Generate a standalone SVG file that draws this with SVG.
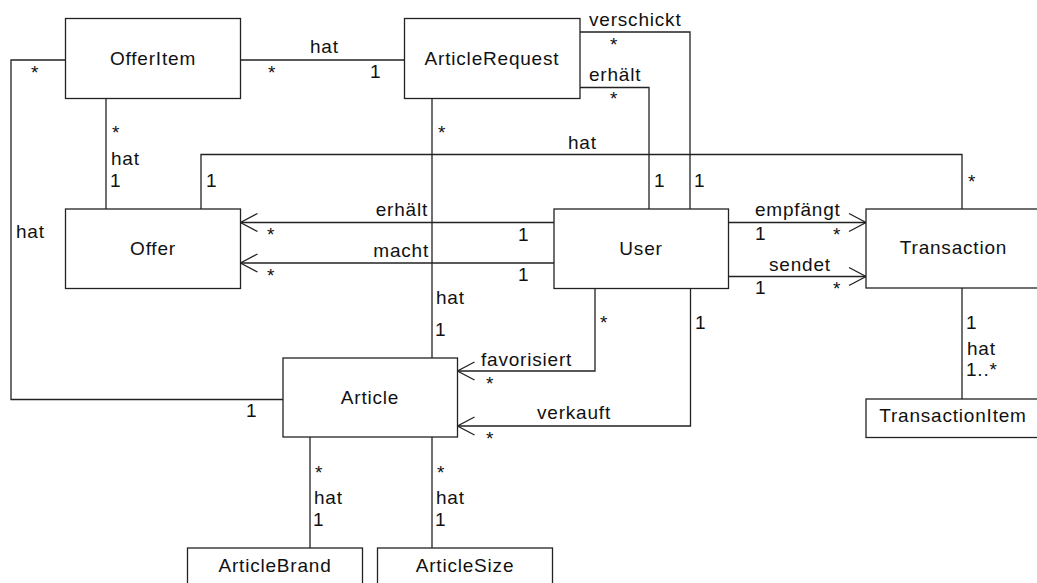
<svg xmlns="http://www.w3.org/2000/svg" width="1037" height="583" viewBox="0 0 1037 583">
<style>
.box{fill:#fff;stroke:#222;stroke-width:1.3}
.c{fill:none;stroke:#222;stroke-width:1.3}
text{font-family:"Liberation Sans",Arial,sans-serif;font-size:19px;letter-spacing:0.8px;fill:#111}
.n{text-anchor:middle}
.e{text-anchor:end}
</style>
<defs>
<marker id="open" markerUnits="userSpaceOnUse" viewBox="-19 -11 21 22" markerWidth="21" markerHeight="22" refX="0" refY="0" orient="auto">
<path d="M-17,-9 L0,0 L-17,9" fill="none" stroke="#222" stroke-width="1.3"/>
</marker>
</defs>
<rect width="1037" height="583" fill="#fff"/>
<g id="connectors">
<path class="c" d="M240.5 60 H404.5"/>
<path class="c" d="M65.5 60 H11 V399.5 H283"/>
<path class="c" d="M106 98.5 V209"/>
<path class="c" d="M201 209 V154.5 H962 V209"/>
<path class="c" d="M432 98.5 V358"/>
<path class="c" d="M580 32 H690 V209"/>
<path class="c" d="M580 87.5 H649 V209"/>
<path class="c" d="M554 222.5 H240.5" marker-end="url(#open)"/>
<path class="c" d="M554 263 H240.5" marker-end="url(#open)"/>
<path class="c" d="M728 222.5 H866" marker-end="url(#open)"/>
<path class="c" d="M728 276.5 H866" marker-end="url(#open)"/>
<path class="c" d="M595 288.5 V371 H457.5" marker-end="url(#open)"/>
<path class="c" d="M690.5 288.5 V426 H457.5" marker-end="url(#open)"/>
<path class="c" d="M962 288 V399"/>
<path class="c" d="M310 437 V548"/>
<path class="c" d="M432 437 V548"/>
<text x="310" y="53">hat</text>
<text x="268" y="79">*</text>
<text x="370" y="78">1</text>
<text x="31" y="79">*</text>
<text x="16" y="238">hat</text>
<text x="246" y="417">1</text>
<text x="112" y="139">*</text>
<text x="111" y="165">hat</text>
<text x="110" y="187">1</text>
<text x="206" y="187">1</text>
<text x="568" y="149">hat</text>
<text x="968" y="188">*</text>
<text x="438" y="139">*</text>
<text x="436" y="304">hat</text>
<text x="435" y="336">1</text>
<text x="589" y="26">verschickt</text>
<text x="610" y="51">*</text>
<text x="694" y="187">1</text>
<text x="589" y="81">erhält</text>
<text x="610" y="105">*</text>
<text x="654" y="187">1</text>
<text class="e" x="428" y="216">erhält</text>
<text x="267" y="241">*</text>
<text x="518" y="241">1</text>
<text class="e" x="429" y="257">macht</text>
<text x="267" y="282">*</text>
<text x="518" y="281">1</text>
<text x="755" y="216">empfängt</text>
<text x="755" y="240">1</text>
<text x="833" y="241">*</text>
<text x="769" y="271">sendet</text>
<text x="755" y="294">1</text>
<text x="833" y="295">*</text>
<text x="600" y="329">*</text>
<text x="481" y="366">favorisiert</text>
<text x="486" y="390">*</text>
<text x="695" y="329">1</text>
<text x="537" y="419">verkauft</text>
<text x="486" y="445">*</text>
<text x="966" y="329">1</text>
<text x="967" y="355">hat</text>
<text x="966" y="376">1..*</text>
<text x="315" y="479">*</text>
<text x="314" y="504">hat</text>
<text x="313" y="526">1</text>
<text x="437" y="479">*</text>
<text x="436" y="504">hat</text>
<text x="435" y="526">1</text>
</g>
<g id="OfferItem"><rect class="box" x="65.5" y="18.5" width="175" height="80"/><text class="n" x="153" y="64.5">OfferItem</text></g>
<g id="ArticleRequest"><rect class="box" x="404.5" y="18.5" width="175.5" height="80"/><text class="n" x="492" y="64.5">ArticleRequest</text></g>
<g id="Offer"><rect class="box" x="65.5" y="209" width="175" height="79.5"/><text class="n" x="153" y="254.5">Offer</text></g>
<g id="User"><rect class="box" x="554" y="209" width="174.5" height="79.5"/><text class="n" x="641" y="254.5">User</text></g>
<g id="Transaction"><rect class="box" x="866" y="209" width="175" height="79"/><text class="n" x="953.5" y="254">Transaction</text></g>
<g id="Article"><rect class="box" x="283" y="358" width="174.5" height="79"/><text class="n" x="370" y="403.5">Article</text></g>
<g id="TransactionItem"><rect class="box" x="866" y="399" width="175" height="38.5"/><text class="n" x="953" y="422">TransactionItem</text></g>
<g id="ArticleBrand"><rect class="box" x="187.5" y="548" width="175" height="40"/><text class="n" x="275" y="571.5">ArticleBrand</text></g>
<g id="ArticleSize"><rect class="box" x="377.5" y="548" width="175" height="40"/><text class="n" x="465" y="571.5">ArticleSize</text></g>
</svg>
